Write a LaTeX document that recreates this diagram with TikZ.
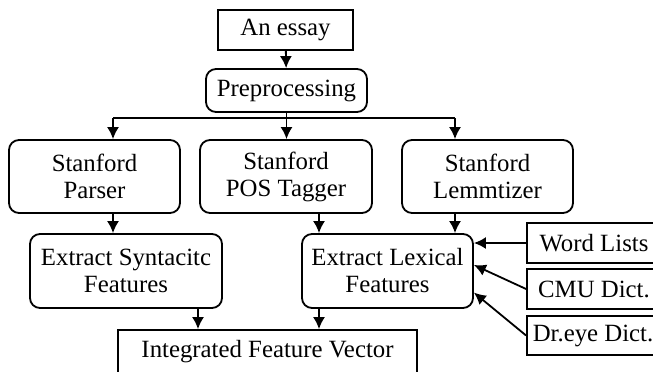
\documentclass[tikz,border=0pt]{standalone}
\usepackage{fontspec}
\setmainfont{Liberation Serif}
\usetikzlibrary{arrows.meta}

\tikzset{
    sqbox/.style={draw, rectangle, align=center, inner sep=2pt},
    rndbox/.style={sqbox, rounded corners=5pt},
}

\begin{document}
\begin{tikzpicture}[x=0.5pt, y=-0.5pt, >={Latex[length=6pt,width=6pt]}, line width=0.9pt,
    font=\fontsize{12.4}{13.5}\selectfont]

    \useasboundingbox (0,0) rectangle (653,371);
    \clip (0,0) rectangle (653,371);

    \node[sqbox, minimum width=67.5pt, minimum height=20pt] (essay) at (285.5,30) {An essay};
    \node[rndbox, minimum width=80.5pt, minimum height=21.5pt] (prep) at (286.5,90.5) {Preprocessing};
    \node[rndbox, minimum width=85.5pt, minimum height=36.5pt] (parser) at (94.5,176.5) {Stanford\\Parser};
    \node[rndbox, minimum width=86pt, minimum height=36.5pt] (pos) at (286,176.5) {Stanford\\POS Tagger};
    \node[rndbox, minimum width=85.5pt, minimum height=36.5pt] (lemma) at (487.5,176.5) {Stanford\\Lemmtizer};
    \node[rndbox, minimum width=96pt, minimum height=37pt] (syn) at (126,271) {Extract Syntacitc\\Features};
    \node[rndbox, minimum width=85.5pt, minimum height=37pt] (lex) at (387.5,271) {Extract Lexical\\Features};
    \node[sqbox, minimum width=149.5pt, minimum height=22pt] (vec) at (267.5,352) {Integrated Feature Vector};
    \node[sqbox, minimum width=67pt, minimum height=20pt] (words) at (594,243) {Word Lists};
    \node[sqbox, minimum width=67pt, minimum height=20pt] (cmu) at (594,289) {CMU Dict.};
    \node[sqbox, minimum width=66pt, minimum height=19.5pt] (dreye) at (593,335.5) {Dr.eye Dict.};

    % split line under preprocessing
    \coordinate (bl) at (113,118);
    \coordinate (br) at (455,118);
    \coordinate (cs) at (198,0);
    \coordinate (cl) at (319,0);

    \draw[->] (essay) -- (prep);
    \draw[->] (prep) -- (prep |- pos.north);
    \draw (bl) -- (br);
    \draw[->] (bl) -- (bl |- parser.north);
    \draw[->] (br) -- (br |- lemma.north);

    \draw[->] (bl |- parser.south) -- (bl |- syn.north);
    \draw[->] (cl |- pos.south) -- (cl |- lex.north);
    \draw[->] (br |- lemma.south) -- (br |- lex.north);
    \draw[->] (cs |- syn.south) -- (cs |- vec.north);
    \draw[->] (cl |- lex.south) -- (cl |- vec.north);

    % dictionaries
    \draw[->] (words) -- (words -| lex.east);
    \foreach \src/\ang in {cmu/4, dreye/-14} {
        \draw[->] (\src.west) -- (lex.\ang);
    }
\end{tikzpicture}
\end{document}
